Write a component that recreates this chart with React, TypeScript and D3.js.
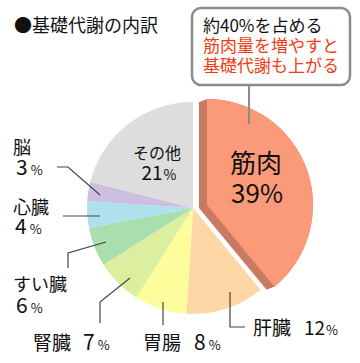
import React from 'react';
import * as d3 from 'd3';

// 基礎代謝の内訳 (clockwise from 12 o'clock)
const organs = ['筋肉', '肝臓', '胃腸', '腎臓', 'すい臓', '心臓', '脳', 'その他'];
const shares = [39, 12, 8, 7, 6, 4, 3, 21];
const sliceColors = ['#fb9a78', '#fdd8a6', '#fdfd9b', '#dcef9e', '#a9dfae', '#aee0ee', '#cdbfe1', '#dddddd'];
const calloutLines = ['約40%を占める', '筋肉量を増やすと', '基礎代謝も上がる'];

const FONT = '"Noto Sans CJK JP", "Noto Sans", sans-serif';

function App() {
  const cx = 193;
  const cy = 208;
  const r = 106;

  const pie = d3.pie<number>().sort(null).value(d => d).startAngle(0).endAngle(2 * Math.PI);
  const arcs = pie(shares);
  const arc = d3.arc<d3.PieArcDatum<number>>().innerRadius(0).outerRadius(r);

  // exploded muscle slice with a darker "side"
  const front = { dx: 14, dy: -3 };
  const back = { dx: 6, dy: 0 };
  const steps = d3.range(0, 1.0001, 0.1);

  const pct = (n: number, big: number, small: number, gap = 2) => (
    <>
      <tspan fontSize={big}>{n}</tspan>
      <tspan dx={gap} fontSize={small}>%</tspan>
    </>
  );

  const lead = { stroke: '#444', strokeWidth: 1.2, fill: 'none' };

  return (
    <svg width={360} height={363} style={{ position: 'absolute', left: 0, top: 0 }} fontFamily={FONT}>
      <rect width={360} height={363} fill="#fff" />

      {/* title */}
      <text x={14} y={32} fontSize={18} fill="#111">●基礎代謝の内訳</text>

      {/* pie */}
      <g transform={`translate(${cx},${cy})`}>
        {arcs.slice(1).map((a, i) => (
          <path key={i} d={arc(a) || ''} fill={sliceColors[i + 1]} />
        ))}
        {steps.map((t, i) => (
          <path
            key={'s' + i}
            d={arc(arcs[0]) || ''}
            fill="#c97a62"
            transform={`translate(${back.dx + (front.dx - back.dx) * t * 0.99},${back.dy + (front.dy - back.dy) * t * 0.99})`}
          />
        ))}
        <path d={arc(arcs[0]) || ''} fill={sliceColors[0]} transform={`translate(${front.dx},${front.dy})`} />
      </g>

      {/* callout */}
      <line x1={249} y1={85} x2={249} y2={124} stroke="#8c8c8c" strokeWidth={2} />
      <rect x={192} y={8} width={158} height={77} rx={9} fill="#fff" stroke="#8c8c8c" strokeWidth={2.5} />
      {calloutLines.map((s, i) => (
        <text key={i} x={203} y={32 + i * 20} fontSize={17} fill={i === 0 ? '#111' : '#f23c14'}>{s}</text>
      ))}

      {/* inside labels */}
      <text x={256} y={173} fontSize={26} textAnchor="middle" fill="#111">{organs[0]}</text>
      <text x={257} y={203} textAnchor="middle" fill="#111">{pct(shares[0], 26, 25, 0)}</text>
      <text x={157} y={159} fontSize={16} textAnchor="middle" fill="#111">{organs[7]}</text>
      <text x={159} y={180} textAnchor="middle" fill="#111">{pct(shares[7], 19, 14, 1)}</text>

      {/* leader lines */}
      <polyline points="57,167 68,167 100,195" {...lead} />
      <polyline points="63,216 100,216" {...lead} />
      <polyline points="106,242 68,253 68,268" {...lead} />
      <polyline points="130,278 100,302 100,323" {...lead} />
      <polyline points="163,302 163,325" {...lead} />
      <polyline points="230,292 230,327 245,327" {...lead} />

      {/* outside labels */}
      <g fill="#111">
        <text x={13} y={154} fontSize={18}>{organs[6]}</text>
        <text x={16} y={175}>{pct(shares[6], 21, 13, 3)}</text>
        <text x={13} y={214} fontSize={18}>{organs[5]}</text>
        <text x={15} y={234}>{pct(shares[5], 21, 13, 3)}</text>
        <text x={13} y={291} fontSize={18}>{organs[4]}</text>
        <text x={16} y={313}>{pct(shares[4], 21, 13, 3)}</text>
        <text x={33} y={350}>
          <tspan fontSize={19}>{organs[3]}</tspan>
          <tspan dx={12} fontSize={21}>{shares[3]}</tspan>
          <tspan dx={3} fontSize={13}>%</tspan>
        </text>
        <text x={143} y={350}>
          <tspan fontSize={19}>{organs[2]}</tspan>
          <tspan dx={13} fontSize={21}>{shares[2]}</tspan>
          <tspan dx={3} fontSize={13}>%</tspan>
        </text>
        <text x={253} y={335}>
          <tspan fontSize={19}>{organs[1]}</tspan>
          <tspan dx={13} fontSize={19}>{shares[1]}</tspan>
          <tspan dx={1} fontSize={13}>%</tspan>
        </text>
      </g>
    </svg>
  );
}

export default App;
